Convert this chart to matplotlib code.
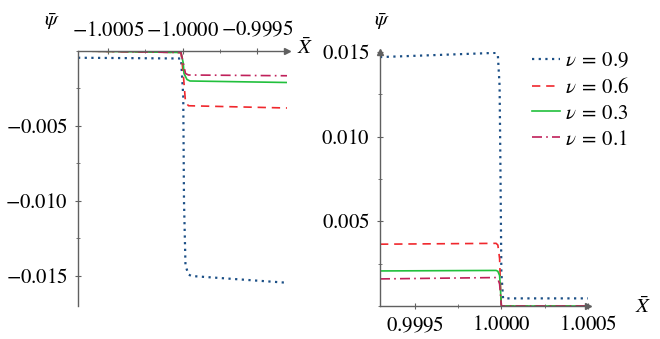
import matplotlib
matplotlib.use("Agg")
import matplotlib.pyplot as plt
from matplotlib.ticker import MultipleLocator, FixedLocator, FuncFormatter

plt.rcParams['font.family'] = ['Liberation Serif', 'DejaVu Serif']
plt.rcParams['mathtext.fontset'] = 'stix'
plt.rcParams['font.size'] = 15

# series labels and styles
labels = [r"$\nu\:=\:0.9$", r"$\nu\:=\:0.6$", r"$\nu\:=\:0.3$", r"$\nu\:=\:0.1$"]
colors = ["#1b4f86", "#f0282d", "#21c03c", "#c0205a"]
styles = [(0, (1, 2)), (0, (5, 3.5)), "-", (0, (6, 2.5, 1, 2.5))]

# left panel (X near -1)
xl_09 = [-1.0007, -1.00001, -0.999995, -0.99999, -0.99998, -0.99996, -0.99994, -0.9993]
yl_09 = [-0.00045, -0.0005, -0.003, -0.010, -0.0143, -0.0149, -0.0150, -0.01545]
xl_06 = [-1.0007, -1.00001, -0.999995, -0.99998, -0.99996, -0.9993]
yl_06 = [0.0, -0.0001, -0.0015, -0.0034, -0.00365, -0.0038]
xl_03 = [-1.0007, -1.00001, -0.999995, -0.99999, -0.99997, -0.99995, -0.9993]
yl_03 = [0.0, -0.0001, -0.0008, -0.0015, -0.0019, -0.0020, -0.0021]
xl_01 = [-1.0007, -1.00001, -0.999995, -0.99998, -0.99996, -0.9993]
yl_01 = [0.0, -0.0001, -0.0008, -0.0015, -0.0016, -0.00165]

# right panel (X near +1)
xr_09 = [0.9993, 0.99997, 0.99998, 0.99999, 0.999995, 1.0, 1.00001, 1.0005]
yr_09 = [0.0147, 0.01495, 0.0148, 0.013, 0.008, 0.002, 0.00045, 0.00045]
xr_06 = [0.9993, 0.99997, 0.99998, 0.99999, 0.999995, 1.0, 1.0005]
yr_06 = [0.00365, 0.0037, 0.0036, 0.0028, 0.0012, 0.0, 0.0]
xr_03 = [0.9993, 0.99997, 0.99998, 0.99999, 0.999995, 1.0, 1.0005]
yr_03 = [0.00207, 0.0021, 0.00205, 0.0018, 0.001, 0.0, 0.0]
xr_01 = [0.9993, 0.99997, 0.99998, 0.99999, 0.999995, 1.0, 1.0005]
yr_01 = [0.0016, 0.00168, 0.0016, 0.0013, 0.0007, 0.0, 0.0]

xticks_l = [-1.0005, -1.0000, -0.9995]
yticks_l = [-0.015, -0.010, -0.005]
xticks_r = [0.9995, 1.0000, 1.0005]
yticks_r = [0.005, 0.010, 0.015]

axcol = "#606060"

fig = plt.figure(figsize=(6.6, 3.39), dpi=100)
axl = fig.add_axes([78/660, 1-306/339, 209/660, 255/339])
axr = fig.add_axes([380/660, 1-306/339, 208/660, 254/339])

for xs, ys, c, ls in zip([xl_09, xl_06, xl_03, xl_01], [yl_09, yl_06, yl_03, yl_01], colors, styles):
    axl.plot(xs, ys, color=c, linestyle=ls, lw=1.6 if c == colors[0] else 1.2)
for xs, ys, c, ls, lab in zip([xr_09, xr_06, xr_03, xr_01], [yr_09, yr_06, yr_03, yr_01], colors, styles, labels):
    axr.plot(xs, ys, color=c, linestyle=ls, lw=1.6 if c == colors[0] else 1.2, label=lab)

axl.set_xlim(-1.0007, -0.9993)
axl.set_ylim(-0.017, 0)
axr.set_xlim(0.9993, 1.0005)
axr.set_ylim(0, 0.015)

for ax in (axl, axr):
    ax.tick_params(which='both', direction='inout', color=axcol, labelcolor='black', labelsize=15)
    ax.tick_params(which='major', length=5, width=0.8, pad=5)
    ax.tick_params(which='minor', length=3, width=0.6)
    ax.xaxis.set_major_formatter(FuncFormatter(lambda v, p: r"$%.4f$" % v))
    ax.yaxis.set_major_formatter(FuncFormatter(lambda v, p: r"$%.3f$" % v))
    ax.xaxis.set_minor_locator(MultipleLocator(0.00025))
    ax.yaxis.set_minor_locator(MultipleLocator(0.0025))
    for s in ax.spines.values():
        s.set_color(axcol)
        s.set_linewidth(1.0)

axl.xaxis.set_major_locator(FixedLocator(xticks_l))
axl.yaxis.set_major_locator(FixedLocator(yticks_l))
axl.xaxis.tick_top()
axl.spines['bottom'].set_visible(False)
axl.spines['right'].set_visible(False)
axl.plot(1, 1, '>', transform=axl.transAxes, clip_on=False, color=axcol, ms=4)

axr.xaxis.set_major_locator(FixedLocator(xticks_r))
axr.yaxis.set_major_locator(FixedLocator(yticks_r))
axr.spines['top'].set_visible(False)
axr.spines['right'].set_visible(False)
axr.plot(1, 0, '>', transform=axr.transAxes, clip_on=False, color=axcol, ms=4)
axr.plot(0, 1, '^', transform=axr.transAxes, clip_on=False, color=axcol, ms=4)

fig.text(52/660, 1-22/339, r"$\bar{\psi}$", ha='center', va='center', fontsize=15)
fig.text(382/660, 1-22/339, r"$\bar{\psi}$", ha='center', va='center', fontsize=15)
fig.text(305/660, 1-49/339, r"$\bar{X}$", ha='center', va='center', fontsize=15)
fig.text(643/660, 1-308/339, r"$\bar{X}$", ha='center', va='center', fontsize=15)

axr.legend(loc='upper left', bbox_to_anchor=(532/660, 1-52/339), bbox_transform=fig.transFigure,
           frameon=False, handlelength=1.35, handletextpad=0.25, labelspacing=0.3,
           borderaxespad=0, borderpad=0, fontsize=15)

fig.savefig("out.png", dpi=100)
